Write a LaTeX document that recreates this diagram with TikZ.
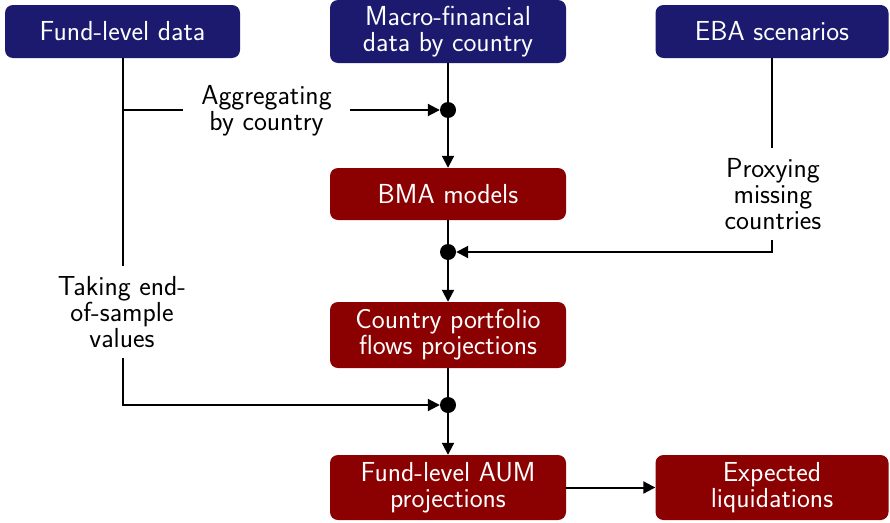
\documentclass[tikz,border=0pt]{standalone}
\usepackage{fontspec}
\usetikzlibrary{arrows.meta,positioning}
\definecolor{boxblue}{HTML}{1B1A6F}
\definecolor{boxred}{HTML}{8B0000}
\tikzset{
  txtfont/.style={font=\sffamily\fontsize{27.5}{26}\selectfont},
  basebox/.style={rounded corners=8pt, text=white, align=center, minimum width=236pt,
    txtfont, inner sep=2pt},
  bluebox/.style={basebox, fill=boxblue},
  redbox/.style={basebox, fill=boxred},
  junction/.style={circle, fill=black, inner sep=0pt, minimum size=16pt},
  conn/.style={line width=2pt, black},
  arr/.style={conn, -{Triangle[length=12pt,width=12pt]}},
  lab/.style={fill=white, align=center, txtfont, text=black}
}
\begin{document}
\begin{tikzpicture}[x=1pt,y=-1pt]
\useasboundingbox (0,0) rectangle (890,522);
% boxes
\node[bluebox, minimum width=235pt, minimum height=53pt] (fund) at (122.5,31.5) {Fund-level data};
\node[bluebox, minimum height=63pt] (macro) at (448,31.5) {Macro-financial\\data by country};
\node[bluebox, minimum width=233pt, minimum height=53pt] (eba) at (772,31.5) {EBA scenarios};
\node[redbox, minimum height=52pt] (bma) at (448,194) {BMA models};
\node[redbox, minimum height=66pt] (country) at (448,335) {Country portfolio\\flows projections};
\node[redbox, minimum height=65pt] (aum) at (448,487.5) {Fund-level AUM\\projections};
\node[redbox, minimum width=233pt, minimum height=65pt] (liq) at (772,487.5) {Expected\\liquidations};
% junctions
\node[junction] (d1) at (448,110) {};
\node[junction] (d2) at (448,252) {};
\node[junction] (d3) at (448,405) {};
% main chain
\draw[conn] (macro) -- (d1);
\draw[arr] (d1) -- (bma);
\draw[conn] (bma) -- (d2);
\draw[arr] (d2) -- (country);
\draw[conn] (country) -- (d3);
\draw[arr] (d3) -- (aum);
\draw[arr] (aum) -- (liq);
% side inputs
\draw[arr] (fund) |- (d3);
\draw[arr] (fund |- d1) -- (d1);
\draw[arr] (eba) |- (d2);
% labels
\node[lab, inner xsep=18pt, inner ysep=4pt] (agg) at (266.5,111) {Aggregating\\by country};
\node[lab, inner xsep=4pt, inner ysep=10pt] (take) at (122,312) {Taking end-\\of-sample\\values};
\node[lab, inner xsep=4pt, inner ysep=10pt] (prox) at (773,194) {Proxying\\missing\\countries};
\end{tikzpicture}
\end{document}
